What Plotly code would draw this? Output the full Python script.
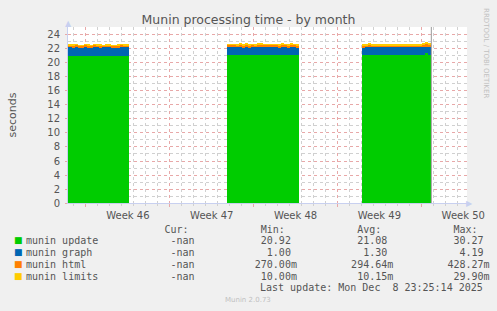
import plotly.graph_objects as go
import pandas as pd

# ---- data ----
series_names = ["munin update", "munin graph", "munin html", "munin limits"]
series_colors = ["#00cc00", "#0066b3", "#ff8000", "#ffcc00"]

seg_starts = ["2025-11-08 09:00", "2025-11-21 18:00", "2025-12-03 02:00"]
step_hours = 6

update_s1 = [21.05, 21.03, 21.06, 21.02, 21.00, 21.04, 21.05, 21.03, 21.01, 21.06, 21.04,
             21.02, 21.05, 21.03, 21.00, 20.98, 21.02, 21.04, 21.05, 21.03, 21.06]
graph_s1 = [1.18, 1.20, 1.15, 1.22, 1.19, 1.17, 1.21, 1.18, 1.16, 1.20, 1.22,
            1.19, 1.17, 1.21, 1.23, 1.20, 1.18, 1.16, 1.19, 1.21, 1.18]
html_s1 = [0.30, 0.32, 0.29, 0.34, 0.30, 0.28, 0.33, 0.31, 0.29, 0.32, 0.30,
           0.34, 0.29, 0.31, 0.33, 0.30, 0.28, 0.32, 0.35, 0.30, 0.31]
limits_s1 = [0.06, 0.05, 0.07, 0.06, 0.05, 0.06, 0.08, 0.05, 0.06, 0.07, 0.05,
             0.06, 0.05, 0.07, 0.06, 0.05, 0.06, 0.07, 0.05, 0.06, 0.06]

update_s2 = [21.15, 21.16, 21.14, 21.17, 21.15, 21.13, 21.16, 21.15, 21.14, 21.17, 21.15, 21.16,
             21.14, 21.15, 21.17, 21.16, 21.14, 21.15, 21.16, 21.13, 21.15, 21.16, 21.14, 21.15]
graph_s2 = [1.14, 1.15, 1.13, 1.12, 1.16, 1.14, 1.15, 1.13, 1.15, 1.12, 1.14, 1.15,
            1.16, 1.13, 1.12, 1.14, 1.15, 1.13, 1.14, 1.16, 1.13, 1.14, 1.15, 1.13]
html_s2 = [0.28, 0.26, 0.30, 0.27, 0.29, 0.28, 0.31, 0.27, 0.28, 0.26, 0.29, 0.28,
           0.27, 0.30, 0.28, 0.27, 0.29, 0.26, 0.28, 0.30, 0.27, 0.28, 0.29, 0.27]
limits_s2 = [0.13, 0.14, 0.12, 0.13, 0.15, 0.13, 0.12, 0.14, 0.13, 0.12, 0.14, 0.13,
             0.13, 0.12, 0.14, 0.13, 0.12, 0.13, 0.14, 0.12, 0.13, 0.14, 0.13, 0.12]

update_s3 = [21.14, 21.16, 21.15, 21.13, 21.15, 21.16, 21.14, 21.15, 21.17, 21.15, 21.14,
             21.16, 21.15, 21.13, 21.15, 21.16, 21.14, 21.15, 21.16, 21.14, 21.15, 21.45, 21.15]
graph_s3 = [1.14, 1.13, 1.15, 1.16, 1.14, 1.13, 1.15, 1.14, 1.12, 1.14, 1.15,
            1.13, 1.14, 1.16, 1.14, 1.13, 1.15, 1.14, 1.13, 1.15, 1.14, 0.85, 1.16]
html_s3 = [0.28, 0.27, 0.29, 0.26, 0.24, 0.26, 0.25, 0.27, 0.24, 0.26, 0.25,
           0.27, 0.24, 0.25, 0.26, 0.24, 0.27, 0.25, 0.26, 0.24, 0.30, 0.45, 0.28]
limits_s3 = [0.13, 0.14, 0.13, 0.14, 0.12, 0.13, 0.14, 0.13, 0.12, 0.14, 0.13,
             0.12, 0.14, 0.13, 0.12, 0.13, 0.14, 0.12, 0.13, 0.14, 0.13, 0.15, 0.13]

legend_cur = ["-nan", "-nan", "-nan", "-nan"]
legend_min = ["20.92 ", " 1.00 ", "270.00m", " 10.00m"]
legend_avg = ["21.08 ", " 1.30 ", "294.64m", " 10.15m"]
legend_max = ["30.27 ", " 4.19 ", "428.27m", " 29.90m"]

x_range = ["2025-11-08 12:00", "2025-12-11 19:30"]
week_tick0 = "2025-11-10"
last_update = "2025-12-08 20:00"
y_ticks = list(range(0, 25, 2))
title = "Munin processing time - by month"
y_title = "seconds"

# ---- build ----
segments = [
    [update_s1, graph_s1, html_s1, limits_s1],
    [update_s2, graph_s2, html_s2, limits_s2],
    [update_s3, graph_s3, html_s3, limits_s3],
]
xs = []
vals = [[], [], [], []]
for start, seg in zip(seg_starts, segments):
    n = len(seg[0])
    t = pd.date_range(start, periods=n, freq=f"{step_hours}h") + pd.Timedelta(hours=step_hours / 2)
    xs.extend(list(t))
    for i in range(4):
        vals[i].extend(seg[i])

width_ms = step_hours * 3600 * 1000
fig = go.Figure()
for i in range(4):
    fig.add_trace(go.Bar(
        x=xs, y=vals[i], width=width_ms, name=series_names[i],
        marker=dict(color=series_colors[i], line=dict(width=0)),
        showlegend=False, hoverinfo="skip",
    ))

fig.add_trace(go.Scatter(
    x=[last_update, last_update], y=[0, 25.14], mode="lines",
    line=dict(color="#999999", width=1), showlegend=False, hoverinfo="skip"))

red_grid = "#e8a8a8"
gray_grid = "#d0d0d0"
axis_col = "#c8d0f0"
txt = "#555555"

fig.update_layout(
    width=497, height=311,
    margin=dict(l=67, r=29, t=27, b=108),
    paper_bgcolor="#f0f0f0", plot_bgcolor="#ffffff",
    barmode="stack", bargap=0,
    font=dict(family="DejaVu Sans", size=10, color=txt),
    title=dict(text=title, x=0.5, xref="container", xanchor="center",
               y=1 - 20 / 311, yref="container", yanchor="middle",
               font=dict(family="DejaVu Sans", size=12.5, color=txt)),
    xaxis=dict(
        type="date", range=x_range, tick0=week_tick0, dtick=7 * 86400000,
        ticklabelmode="period", tickformat="Week %V",
        showgrid=True, gridcolor=red_grid, griddash="dot", gridwidth=1,
        ticks="outside", ticklen=3, tickcolor=red_grid,
        showline=True, linecolor=axis_col, linewidth=1,
        zeroline=False,
        tickfont=dict(size=10, color=txt),
        minor=dict(dtick=86400000, tick0=week_tick0, showgrid=True, gridcolor=gray_grid,
                   griddash="dot", ticks="outside", ticklen=2, tickcolor=gray_grid),
    ),
    yaxis=dict(
        range=[0, 25.14], tickvals=y_ticks,
        showgrid=True, gridcolor=red_grid, griddash="dot", gridwidth=1,
        ticks="outside", ticklen=2, tickcolor=red_grid,
        showline=True, linecolor=axis_col, linewidth=1,
        zeroline=False,
        tickfont=dict(size=10, color=txt),
        ticklabelstandoff=3,
        minor=dict(dtick=1, showgrid=True, gridcolor=gray_grid, griddash="dot"),
        title=dict(text=y_title, font=dict(size=11, color=txt), standoff=28),
    ),
)

NB = "\u00a0"

def row(cols):
    line = [" "] * 78
    for pos, s, align in cols:
        if align == "r":
            pos = pos - len(s)
        for k, ch in enumerate(s):
            line[pos + k] = ch
    return "".join(line).rstrip().replace(" ", NB)

anns = []
anns.append(dict(text=row([(23, "Cur:", "l"), (39, "Min:", "l"), (55, "Avg:", "l"), (71, "Max:", "l")]),
                 x=23, y=229))
for i in range(4):
    s = row([(0, series_names[i], "l"), (24, legend_cur[i], "l"),
             (45, legend_min[i], "r"), (61, legend_avg[i], "r"), (77, legend_max[i], "r")])
    yy = 240 + 12 * i
    anns.append(dict(text=s, x=23, y=yy))
    anns.append(dict(text="■", x=11, y=yy, font=dict(family="DejaVu Sans", size=9, color=series_colors[i])))

for a in anns:
    a.setdefault("font", dict(family="DejaVu Sans Mono", size=10, color=txt))
    a.update(xref="paper", yref="paper", xanchor="left", yanchor="middle", showarrow=False)
    a["x"] = (a["x"] - 67) / 401
    a["y"] = (203 - a["y"]) / 176
    fig.add_annotation(**a)

def px_ann(text, x, y, xanchor="center", size=10, color=txt, family="DejaVu Sans", angle=0):
    fig.add_annotation(text=text, xref="paper", yref="paper",
                       x=(x - 67) / 401, y=(203 - y) / 176,
                       xanchor=xanchor, yanchor="middle", showarrow=False, textangle=angle,
                       font=dict(family=family, size=size, color=color))

px_ann("Last" + NB + "update:" + NB + "Mon" + NB + "Dec" + NB + NB + "8" + NB + "23:25:14" + NB + "2025",
       486, 287, xanchor="right", family="DejaVu Sans Mono")
px_ann("Munin 2.0.73", 248, 300, size=7, color="#c0c0c0")
px_ann("RRDTOOL / TOBI OETIKER", 487, 53, size=7, color="#c0c0c0", angle=90)
px_ann("▲", 67, 23, size=8, color=axis_col)
px_ann("▶", 471, 203, size=8, color=axis_col)

fig.write_html("out.html")
